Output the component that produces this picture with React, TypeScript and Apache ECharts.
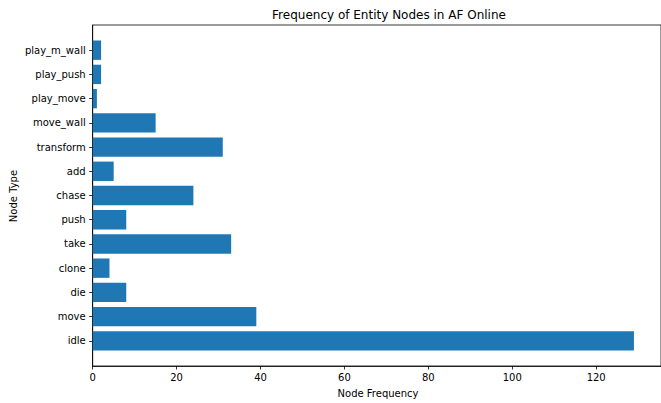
import React, { useEffect, useRef } from "react";
import * as echarts from "echarts";

const categories = [
  "idle", "move", "die", "clone", "take", "push", "chase", "add",
  "transform", "move_wall", "play_move", "play_push", "play_m_wall",
];
const frequencies = [129, 39, 8, 4, 33, 8, 24, 5, 31, 15, 1, 2, 2];
const xTicks = [0, 20, 40, 60, 80, 100, 120];

export default function App() {
  const ref = useRef<HTMLDivElement>(null);
  useEffect(() => {
    if (!ref.current) return;
    const chart = echarts.init(ref.current, undefined, { renderer: "svg" });
    const font = "DejaVu Sans";
    const data = frequencies.map((v, i) => [v, i]);
    const yIdx = categories.map((_, i) => i);
    chart.setOption({
      animation: false,
      textStyle: { fontFamily: font },
      grid: {
        left: 92.7,
        top: 25,
        bottom: 37,
        right: -4.7,
        show: true,
        borderColor: "#000",
        borderWidth: 0.8,
        backgroundColor: "transparent",
        containLabel: false,
      },
      xAxis: {
        type: "value",
        min: 0,
        max: 135.45,
        splitLine: { show: false },
        axisLine: { show: true, onZero: false, lineStyle: { color: "#000", width: 0.8 } },
        axisTick: { show: true, length: 3.5, customValues: xTicks, lineStyle: { color: "#000", width: 0.8 } },
        axisLabel: {
          customValues: xTicks,
          margin: 6,
          color: "#000",
          fontSize: 10,
          fontFamily: font,
        },
      },
      yAxis: {
        type: "value",
        min: -1.04,
        max: 13.04,
        splitLine: { show: false },
        axisLine: { show: true, onZero: false, lineStyle: { color: "#000", width: 0.8 } },
        axisTick: { show: true, length: 3.5, customValues: yIdx, lineStyle: { color: "#000", width: 0.8 } },
        axisLabel: {
          customValues: yIdx,
          margin: 7,
          color: "#000",
          fontSize: 10,
          fontFamily: font,
          formatter: (v: number) => categories[Math.round(v)] ?? "",
        },
      },
      series: [
        {
          type: "custom",
          data,
          encode: { x: 0, y: 1 },
          renderItem: (params: any, api: any) => {
            const v = api.value(0);
            const i = api.value(1);
            const p0 = api.coord([0, i + 0.4]);
            const p1 = api.coord([v, i - 0.4]);
            return {
              type: "rect",
              shape: { x: p0[0], y: p0[1], width: p1[0] - p0[0], height: p1[1] - p0[1] },
              style: { fill: "#1f77b4" },
            };
          },
        },
      ],
      graphic: [
        {
          type: "text",
          x: 389,
          y: 15,
          style: {
            text: "Frequency of Entity Nodes in AF Online",
            font: `12px ${font}`,
            fill: "#000",
            align: "center",
            verticalAlign: "middle",
          },
        },
        {
          type: "text",
          x: 378,
          y: 393,
          style: {
            text: "Node Frequency",
            font: `10px ${font}`,
            fill: "#000",
            align: "center",
            verticalAlign: "middle",
          },
        },
        {
          type: "text",
          x: 13,
          y: 196,
          rotation: Math.PI / 2,
          style: {
            text: "Node Type",
            font: `10px ${font}`,
            fill: "#000",
            align: "center",
            verticalAlign: "middle",
          },
        },
      ],
    });
    return () => chart.dispose();
  }, []);
  return (
    <div
      ref={ref}
      style={{ position: "fixed", left: 0, top: 0, width: 661, height: 403, background: "#fff" }}
    />
  );
}
